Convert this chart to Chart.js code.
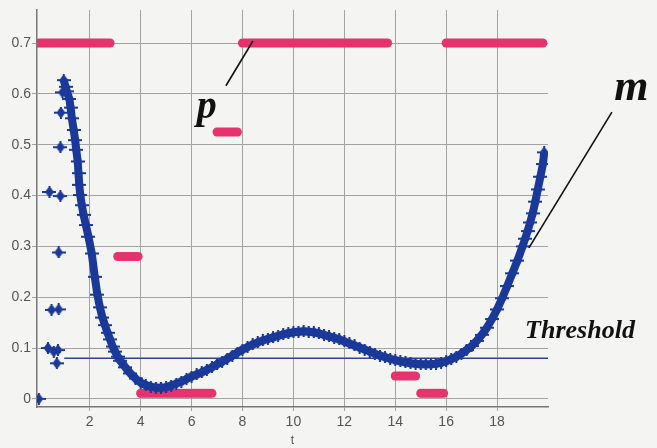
<!DOCTYPE html>
<html>
<head>
<meta charset="utf-8">
<script src="https://cdn.jsdelivr.net/npm/chart.js@4.4.1/dist/chart.umd.min.js"></script>
<style>
  html, body { margin: 0; padding: 0; background: #f4f4f2; }
  #wrap { width: 657px; height: 448px; position: relative; }
</style>
</head>
<body>
<div id="wrap"><canvas id="chart"></canvas></div>
<script>
// --- AXES ---
const xTicks = [2, 4, 6, 8, 10, 12, 14, 16, 18];
const yTicks = [0, 0.1, 0.2, 0.3, 0.4, 0.5, 0.6, 0.7];

// --- p : step levels, sampled every 0.1 in t ---
const pStart = [0, 3.1, 4.0, 7.0, 8.0, 14.0, 15.0, 16.0];
const pEnd   = [2.8, 3.9, 6.8, 7.8, 13.7, 14.8, 15.9, 19.8];
const pLevel = [0.7, 0.28, 0.011, 0.525, 0.7, 0.045, 0.011, 0.7];
const pStep = 0.1;

// --- m : start-up scatter, then the smooth curve ---
const mStartT = [0, 0.36, 0.42, 0.5, 0.59, 0.71, 0.75, 0.78, 0.78, 0.85, 0.85, 0.87, 0.93, 1.05];
const mStartV = [0, 0.10, 0.407, 0.175, 0.093, 0.07, 0.096, 0.288, 0.176, 0.399, 0.495, 0.563, 0.603, 0.614];

const mT = [0.98, 1.1, 1.2, 1.25, 1.3, 1.37, 1.43, 1.47, 1.53, 1.56, 1.59, 1.63, 1.69, 1.76, 1.85, 1.95,
  2.08, 2.2, 2.3, 2.4, 2.5, 2.6, 2.7, 2.8, 2.9, 3.0, 3.1, 3.2, 3.4, 3.6, 3.8, 4.0, 4.2, 4.4, 4.6, 4.8,
  5.0, 5.2, 5.4, 5.6, 5.8, 6.0, 6.2, 6.4, 6.6, 6.8, 7.0, 7.2, 7.4, 7.6, 7.8, 8.0, 8.2, 8.4, 8.6, 8.8,
  9.0, 9.2, 9.4, 9.6, 9.8, 10.0, 10.2, 10.4, 10.6, 10.8, 11.0, 11.2, 11.4, 11.6, 11.8, 12.0, 12.2, 12.4,
  12.6, 12.8, 13.0, 13.2, 13.4, 13.6, 13.8, 14.0, 14.2, 14.4, 14.6, 14.8, 15.0, 15.2, 15.4, 15.6, 15.8,
  16.0, 16.2, 16.4, 16.6, 16.8, 17.0, 17.2, 17.4, 17.6, 17.8, 18.0, 18.2, 18.4, 18.6, 18.8, 19.0, 19.1,
  19.2, 19.3, 19.4, 19.5, 19.6, 19.7, 19.8, 19.85];
const mV = [0.627, 0.605, 0.59, 0.573, 0.552, 0.529, 0.509, 0.49, 0.467, 0.444, 0.421, 0.401, 0.381, 0.362, 0.342, 0.319,
  0.286, 0.24, 0.205, 0.18, 0.16, 0.145, 0.13, 0.117, 0.103, 0.093, 0.083, 0.075, 0.062, 0.05, 0.04, 0.032, 0.027, 0.024, 0.022, 0.022,
  0.023, 0.026, 0.03, 0.034, 0.039, 0.044, 0.048, 0.052, 0.057, 0.062, 0.068, 0.073, 0.079, 0.085, 0.091, 0.097, 0.102, 0.107, 0.111, 0.115,
  0.118, 0.121, 0.124, 0.127, 0.129, 0.131, 0.132, 0.133, 0.132, 0.131, 0.129, 0.126, 0.123, 0.12, 0.117, 0.113, 0.109, 0.105,
  0.101, 0.097, 0.093, 0.089, 0.085, 0.082, 0.079, 0.076, 0.074, 0.072, 0.07, 0.069, 0.068, 0.068, 0.068, 0.069, 0.071,
  0.074, 0.078, 0.083, 0.089, 0.096, 0.104, 0.114, 0.126, 0.14, 0.157, 0.176, 0.198, 0.222, 0.247, 0.272, 0.3, 0.315,
  0.33, 0.347, 0.365, 0.388, 0.412, 0.437, 0.462, 0.485];

// --- threshold ---
const thresholdValue = 0.08;
const thresholdSpan = [1.0, 20];

// --- labels drawn on the plot (t, value) ---
const notes = [
  { text: 'p', t: 6.2, v: 0.553, size: 40, align: 'left' },
  { text: 'm', t: 22.6, v: 0.588, size: 44, align: 'left' },
  { text: 'Threshold', t: 19.1, v: 0.12, size: 26, align: 'left' }
];
const leaders = [
  [7.35, 0.616, 8.41, 0.704],
  [22.51, 0.564, 19.25, 0.297]
];

// build p points from the step table
const pPoints = [];
pLevel.forEach((lvl, i) => {
  for (let t = pStart[i]; t <= pEnd[i] + 1e-9; t += pStep) {
    pPoints.push({ x: Math.round(t * 100) / 100, y: lvl });
  }
});
const mStartPoints = mStartT.map((t, i) => ({ x: t, y: mStartV[i] }));
const mPoints = mT.map((t, i) => ({ x: t, y: mV[i] }));

// 4-point star marker for m (diamond with a cross bar)
function makeStar(color) {
  const c = document.createElement('canvas');
  c.width = 14; c.height = 12;
  const g = c.getContext('2d');
  g.fillStyle = color;
  g.beginPath();
  g.moveTo(7, 0); g.lineTo(11.5, 6); g.lineTo(7, 12); g.lineTo(2.5, 6);
  g.closePath(); g.fill();
  g.fillRect(0, 5, 14, 2);
  g.fillRect(6, 0, 2, 12);
  return c;
}
const star = makeStar('#1b3999');

const notePlugin = {
  id: 'notes',
  afterDatasetsDraw(chart) {
    const { ctx, scales: { x, y } } = chart;
    ctx.save();
    ctx.strokeStyle = '#111';
    ctx.lineWidth = 1.6;
    leaders.forEach(l => {
      ctx.beginPath();
      ctx.moveTo(x.getPixelForValue(l[0]), y.getPixelForValue(l[1]));
      ctx.lineTo(x.getPixelForValue(l[2]), y.getPixelForValue(l[3]));
      ctx.stroke();
    });
    ctx.fillStyle = '#111';
    ctx.textBaseline = 'alphabetic';
    notes.forEach(n => {
      ctx.font = `italic bold ${n.size}px "Liberation Serif", "DejaVu Serif", serif`;
      ctx.textAlign = n.align;
      ctx.fillText(n.text, x.getPixelForValue(n.t), y.getPixelForValue(n.v));
    });
    ctx.restore();
  }
};

new Chart(document.getElementById('chart'), {
  type: 'scatter',
  data: {
    datasets: [
      { label: 'm', data: mPoints, order: 1, showLine: true, borderColor: '#1b3999', borderWidth: 8,
        pointStyle: star, pointRadius: 6, tension: 0 },
      { label: 'm start', data: mStartPoints, order: 1, showLine: false, pointStyle: star, pointRadius: 6 },
      { label: 'p', data: pPoints, order: 2, showLine: false, pointRadius: 4.5, pointBorderWidth: 0,
        backgroundColor: '#e6336d', borderColor: '#e6336d' },
      { label: 'Threshold', data: [{ x: thresholdSpan[0], y: thresholdValue }, { x: thresholdSpan[1], y: thresholdValue }],
        order: 3, showLine: true, pointRadius: 0, borderColor: '#34418f', borderWidth: 1.5 }
    ]
  },
  options: {
    responsive: true,
    maintainAspectRatio: false,
    animation: false,
    layout: { autoPadding: false, padding: { top: 10, right: 109, left: 0, bottom: 0 } },
    plugins: { legend: { display: false }, tooltip: { enabled: false } },
    scales: {
      x: {
        type: 'linear', min: -0.07, max: 20,
        afterBuildTicks: s => { s.ticks = xTicks.map(v => ({ value: v })); },
        afterFit: s => { s.height = 41; },
        grid: { color: '#a3a3a3', lineWidth: 1, tickLength: 4 },
        border: { color: '#777', width: 1.5 },
        ticks: { color: '#555', padding: 3, maxRotation: 0, font: { family: '"Liberation Sans", Arial', size: 14 } },
        title: { display: true, text: 't', color: '#555', padding: { top: 0, bottom: 0 },
          font: { family: '"Liberation Sans", Arial', size: 12 } }
      },
      y: {
        type: 'linear', min: -0.016, max: 0.765,
        afterBuildTicks: s => { s.ticks = yTicks.map(v => ({ value: v })); },
        afterFit: s => { s.width = 37; },
        grid: { color: '#a3a3a3', lineWidth: 1, tickLength: 5 },
        border: { color: '#777', width: 1.5 },
        ticks: { color: '#555', padding: 1, callback: v => (v === 0 ? '0' : v.toFixed(1)),
          font: { family: '"Liberation Sans", Arial', size: 14 } }
      }
    }
  },
  plugins: [notePlugin]
});
</script>
</body>
</html>
